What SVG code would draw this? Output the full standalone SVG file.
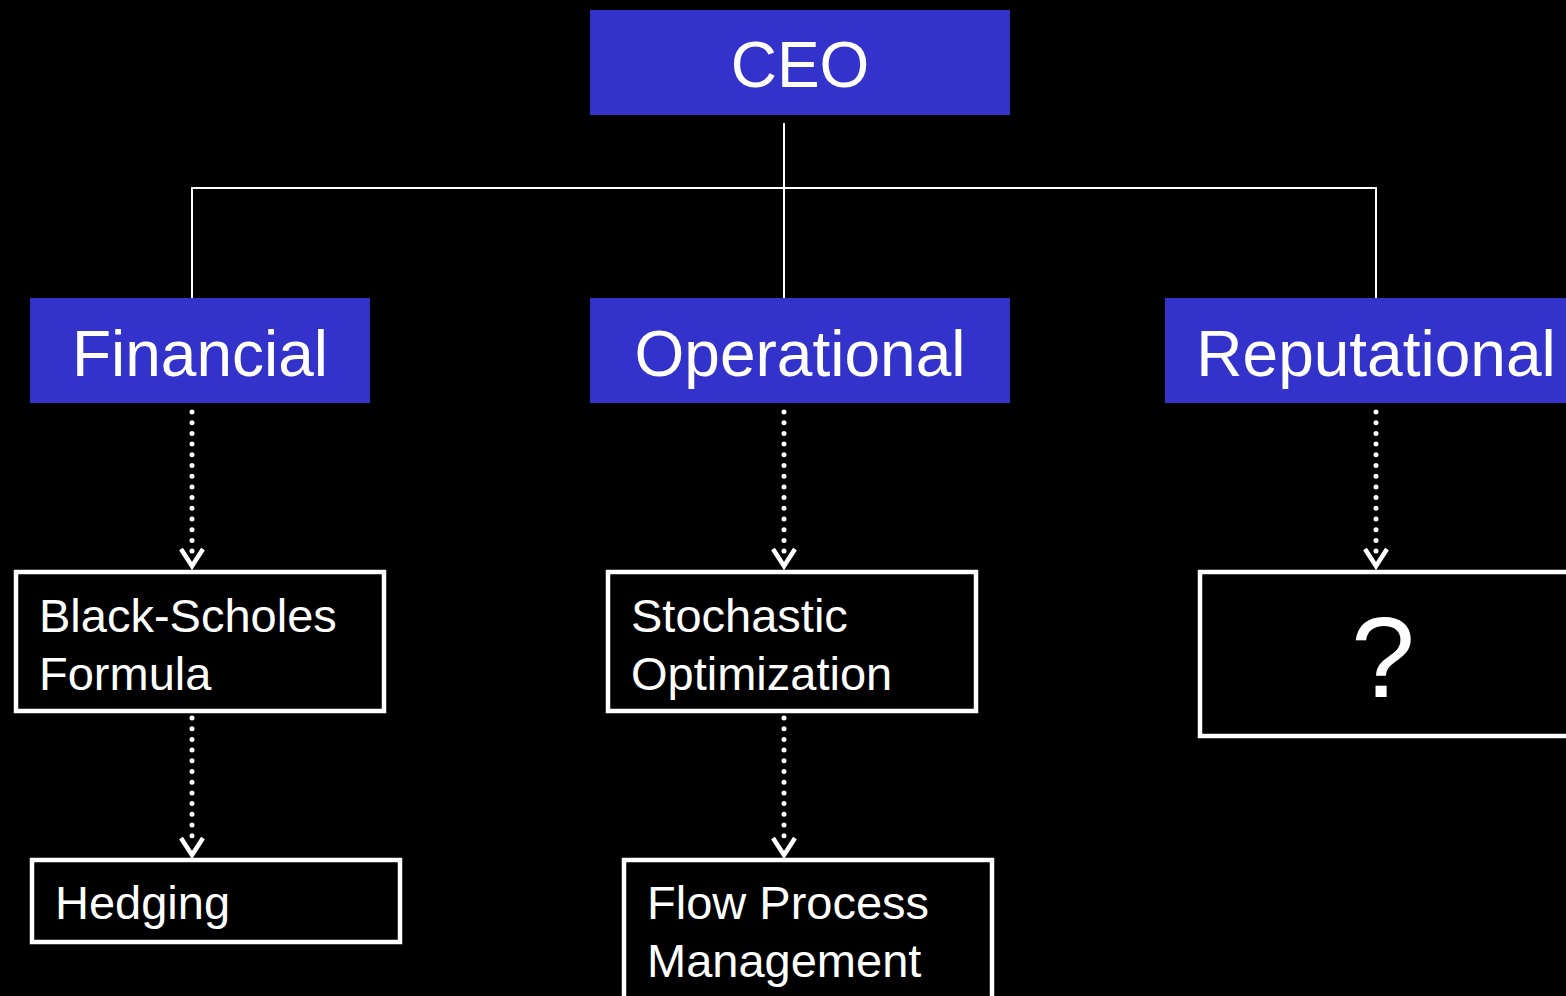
<svg xmlns="http://www.w3.org/2000/svg" width="1566" height="996" viewBox="0 0 1566 996">
<defs>
<style>
.blue{fill:#3333CC}
.box{fill:#000;stroke:#fff;stroke-width:4.5}
.t{font-family:"Liberation Sans",Arial,sans-serif;fill:#fff}
.s{font-size:47px}
.solid{stroke:#fff;stroke-width:2;fill:none}
.dot{stroke:#fff;stroke-width:5;stroke-linecap:round;stroke-dasharray:0 10.7;fill:none}
.head{stroke:#fff;stroke-width:4.5;fill:none;stroke-linejoin:miter}
</style>
</defs>
<rect width="1566" height="996" fill="#000"/>
<g id="connectors">
<path class="solid" d="M784 123V300M192 300V188H1376V300"/>
<path class="dot" d="M192 412V552"/>
<path class="head" d="M181 549L192 566L203 549"/>
<path class="dot" d="M784 412V552"/>
<path class="head" d="M773 549L784 566L795 549"/>
<path class="dot" d="M1376 412V552"/>
<path class="head" d="M1365 549L1376 566L1387 549"/>
<path class="dot" d="M192 718V842"/>
<path class="head" d="M181 838L192 855L203 838"/>
<path class="dot" d="M784 718V842"/>
<path class="head" d="M773 838L784 855L795 838"/>
</g>
<g id="ceo">
<rect class="blue" x="590" y="10" width="420" height="105"/>
<text class="t" x="800" y="87" font-size="64" text-anchor="middle">CEO</text>
</g>
<g id="financial">
<rect class="blue" x="30" y="298" width="340" height="105"/>
<text class="t" x="200" y="376" font-size="64" text-anchor="middle">Financial</text>
</g>
<g id="operational">
<rect class="blue" x="590" y="298" width="420" height="105"/>
<text class="t" x="800" y="376" font-size="64" text-anchor="middle">Operational</text>
</g>
<g id="reputational">
<rect class="blue" x="1165" y="298" width="410" height="105"/>
<text class="t" x="1376" y="376" font-size="64" text-anchor="middle">Reputational</text>
</g>
<g id="black-scholes">
<rect class="box" x="16" y="572" width="368" height="139"/>
<text class="t s" x="39" y="632">Black-Scholes</text>
<text class="t s" x="39" y="690">Formula</text>
</g>
<g id="hedging">
<rect class="box" x="32" y="860" width="368" height="82"/>
<text class="t s" x="55" y="919">Hedging</text>
</g>
<g id="stochastic">
<rect class="box" x="608" y="572" width="368" height="139"/>
<text class="t s" x="631" y="632">Stochastic</text>
<text class="t s" x="631" y="690">Optimization</text>
</g>
<g id="flow">
<rect class="box" x="624" y="860" width="368" height="150"/>
<text class="t s" x="647" y="919">Flow Process</text>
<text class="t s" x="647" y="977">Management</text>
</g>
<g id="unknown">
<rect class="box" x="1200" y="572" width="380" height="164"/>
<text class="t" x="1383" y="697" font-size="115" text-anchor="middle">?</text>
</g>
</svg>
